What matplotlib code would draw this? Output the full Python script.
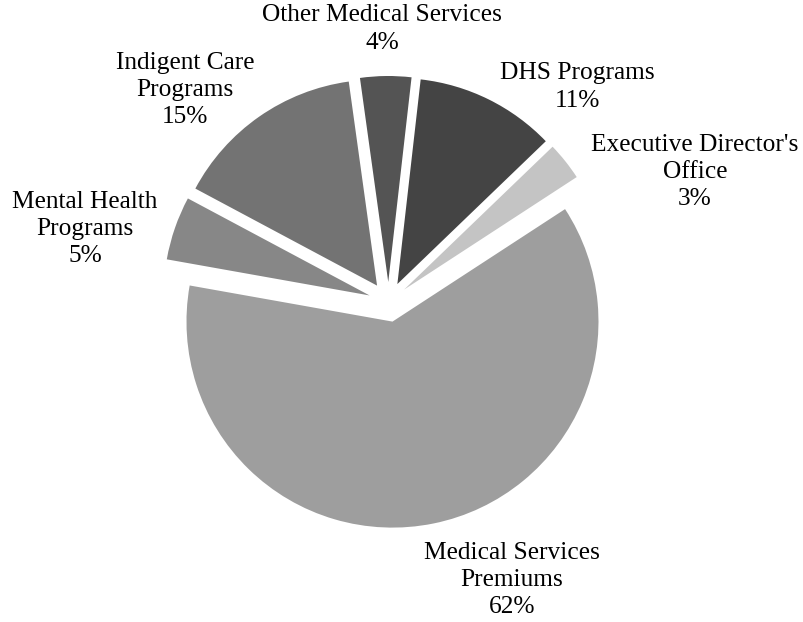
import matplotlib.pyplot as plt

# Budget shares, in drawing order (clockwise)
names = ["Medical Services\nPremiums", "Mental Health\nPrograms", "Indigent Care\nPrograms",
         "Other Medical Services", "DHS Programs", "Executive Director's\nOffice"]
shares = [62, 5, 15, 4, 11, 3]
shades = ["#9e9e9e", "#878787", "#737373", "#545454", "#444444", "#c4c4c4"]

# label anchor points (pixel space, origin bottom-left)
label_xy = [(512, 42), (85, 393), (185, 532), (382, 593), (577, 535), (695, 450)]


def main():
    fig = plt.figure(figsize=(8.04, 6.22), dpi=100)
    ax = fig.add_axes([0, 0, 1, 1])

    ax.pie(shares, colors=shades, center=(388.5, 320), radius=206,
           startangle=33.1, counterclock=False, explode=[20] * len(shares),
           wedgeprops=dict(linewidth=0), frame=True)
    ax.set_xlim(0, 804)
    ax.set_ylim(0, 622)
    ax.set_aspect("equal")
    ax.axis("off")

    for name, val, (x, y) in zip(names, shares, label_xy):
        txt = name + "\n" + str(val) + "%"
        ax.text(x, y, txt, ha="center", va="center", multialignment="center",
                family="Liberation Serif", fontsize=18.3, linespacing=1.3)

    fig.savefig("out.png", dpi=100)


if __name__ == "__main__":
    main()
